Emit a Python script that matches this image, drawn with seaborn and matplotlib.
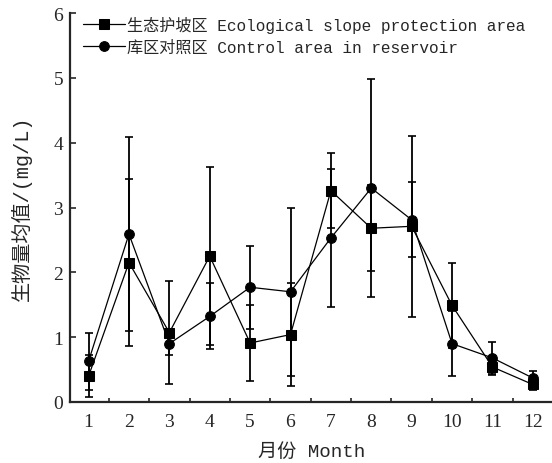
import matplotlib
matplotlib.use("Agg")
import matplotlib.pyplot as plt
import seaborn as sns
import pandas as pd
import numpy as np

months = list(range(1, 13))
month_labels = [str(m) for m in months]

series_names = ["生态护坡区 Ecological slope protection area",
                "库区对照区 Control area in reservoir"]

eco_mean = [0.40, 2.15, 1.07, 2.25, 0.91, 1.04, 3.26, 2.68, 2.71, 1.49, 0.54, 0.27]
eco_err = [0.33, 1.29, 0.79, 1.37, 0.58, 0.80, 0.58, 0.66, 1.40, 0.65, 0.13, 0.08]

ctrl_mean = [0.63, 2.59, 0.90, 1.32, 1.77, 1.70, 2.53, 3.30, 2.81, 0.90, 0.68, 0.37]
ctrl_err = [0.44, 1.49, 0.18, 0.51, 0.64, 1.30, 1.06, 1.68, 0.58, 0.50, 0.25, 0.11]

sns.set_style("ticks")
mono = ["Liberation Mono", "Noto Sans CJK SC"]
serif = ["Liberation Serif", "Noto Sans CJK SC"]
plt.rcParams["font.family"] = mono

df = pd.DataFrame({
    "month": months * 2,
    "value": eco_mean + ctrl_mean,
    "series": [series_names[0]] * 12 + [series_names[1]] * 12,
})

W, H = 552, 464
fig = plt.figure(figsize=(W / 100, H / 100), dpi=100)
ax = fig.add_axes([70 / W, (H - 403) / H, (553 - 70) / W, (403 - 14) / H])

# error bars
for mean, err in [(eco_mean, eco_err), (ctrl_mean, ctrl_err)]:
    ax.errorbar(months, mean, yerr=err, fmt="none", ecolor="black",
                elinewidth=1.3, capsize=3.2, capthick=1.2, zorder=2)

sns.lineplot(data=df, x="month", y="value", hue="series", style="series",
             markers={series_names[0]: "s", series_names[1]: "o"},
             dashes=False, palette={series_names[0]: "black", series_names[1]: "black"},
             linewidth=0.9, markersize=7, markeredgecolor="black",
             ax=ax, zorder=3)

ax.set_xlim(0.54, 12.5)
ax.set_ylim(0, 6)
ax.set_xticks(months)
ax.set_xticklabels(month_labels, fontfamily=serif, fontsize=14)
ax.set_xticks(np.arange(1.5, 12.5, 1), minor=True)
ax.tick_params(axis="x", which="major", length=0, pad=8)
ax.tick_params(axis="x", which="minor", direction="in", length=3, width=1.2)
ax.set_yticks(range(0, 7))
ax.set_yticklabels([str(v) for v in range(0, 7)], fontfamily=serif, fontsize=14)
ax.tick_params(axis="y", direction="in", length=4, width=1.2, pad=5)

for s in ["top", "right"]:
    ax.spines[s].set_visible(False)
for s in ["left", "bottom"]:
    ax.spines[s].set_linewidth(1.6)

ax.set_xlabel("月份 Month", fontfamily=mono, fontsize=13.8, labelpad=9)
ax.set_ylabel("生物量均值/(mg/L)", fontfamily=mono, fontsize=14.5, labelpad=15)

leg = ax.legend(loc="upper left", bbox_to_anchor=(83 / W, 1 - 17 / H),
                bbox_transform=fig.transFigure, frameon=False,
                handlelength=2.6, handletextpad=0.15, borderpad=0,
                borderaxespad=0, labelspacing=0.4,
                prop={"family": mono, "size": 11.6})
for h in leg.legend_handles:
    h.set_color("black")

fig.savefig("out.png", dpi=100)
